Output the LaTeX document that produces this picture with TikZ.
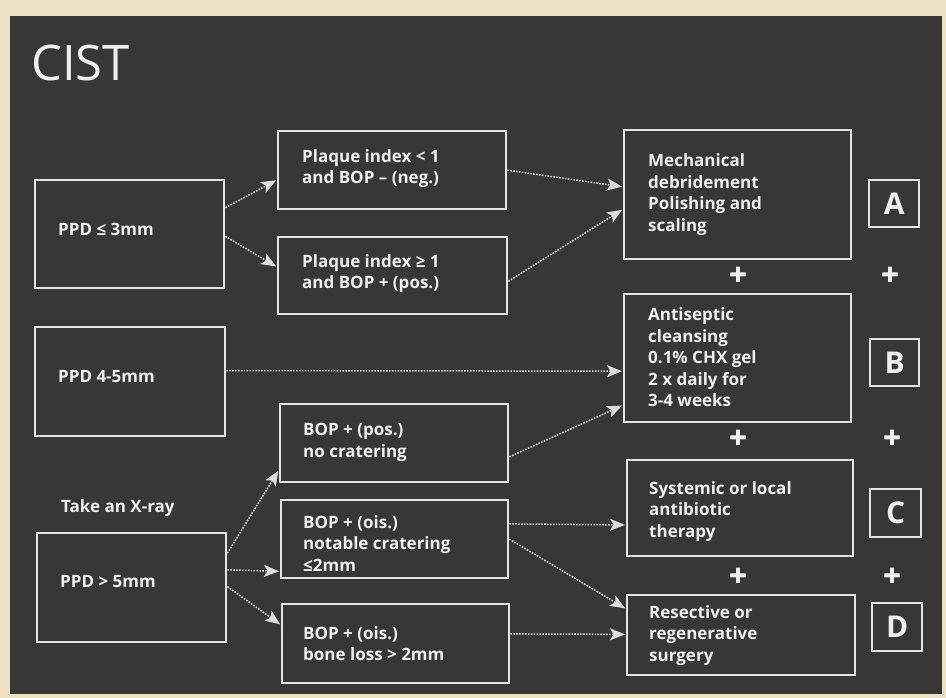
\documentclass[tikz,border=0pt]{standalone}
\usepackage{fontspec}
\setmainfont{Open Sans}
\newfontfamily\plusfont{Open Sans Bold}[FakeBold=2.5]
\usetikzlibrary{calc,arrows.meta}
\definecolor{cream}{HTML}{EDE2C3}
\definecolor{board}{HTML}{373736}
\definecolor{chalk}{HTML}{EEEEEE}
\definecolor{linecol}{HTML}{E4E4E4}
\definecolor{arrcol}{HTML}{DCDCDC}
\tikzset{
  box/.style={draw=linecol, line width=2.4pt, rectangle, inner sep=0pt, anchor=north west},
  txt/.style={text=chalk, font=\fontsize{17}{21.5}\selectfont\bfseries, align=left, inner sep=0pt, anchor=west},
  letter/.style={draw=linecol, line width=2.4pt, rectangle, inner sep=0pt, anchor=north west, text=chalk, font=\fontsize{30}{30}\selectfont\bfseries},
  plus/.style={text=chalk, font=\fontsize{30}{30}\plusfont, inner sep=0pt},
  arr/.style={draw=arrcol, line width=1.5pt, dash pattern=on 1.6pt off 1.3pt, -{Stealth[length=15pt,width=12pt,inset=3.5pt]}, shorten >=1pt}
}
\begin{document}
\begin{tikzpicture}[x=1pt,y=-1pt]
\useasboundingbox (0,0) rectangle (946,698);
\fill[cream] (0,0) rectangle (946,698);
\fill[board] (10,16) rectangle (942,694);

\node[text=chalk, font=\fontsize{49}{49}\selectfont, anchor=west, inner sep=0pt] (title) at (31,63) {CIST};

% boxes
\node[box, minimum width=189pt, minimum height=108pt] (ppd3) at (34,179) {};
\node[box, minimum width=190pt, minimum height=109pt] (ppd45) at (34,326) {};
\node[box, minimum width=189pt, minimum height=109pt] (ppd5) at (36,532) {};
\node[box, minimum width=228pt, minimum height=78pt] (pl1) at (277,130) {};
\node[box, minimum width=229pt, minimum height=77pt] (pl2) at (277,236) {};
\node[box, minimum width=228pt, minimum height=78pt] (bop1) at (279,403) {};
\node[box, minimum width=227pt, minimum height=78pt] (bop2) at (280,499) {};
\node[box, minimum width=227pt, minimum height=79pt] (bop3) at (281,603) {};
\node[box, minimum width=227pt, minimum height=129pt] (mech) at (623,129) {};
\node[box, minimum width=227pt, minimum height=128pt] (anti) at (623,293) {};
\node[box, minimum width=226pt, minimum height=96pt] (syst) at (626,459) {};
\node[box, minimum width=228pt, minimum height=80pt] (surg) at (626,594) {};

% texts
\node[txt] (ppd3t) at ($(ppd3.west)+(24,-5)$) {PPD ≤ 3mm};
\node[txt] (ppd45t) at ($(ppd45.west)+(24,-5.5)$) {PPD 4-5mm};
\node[txt] (ppd5t) at ($(ppd5.west)+(24,-6.5)$) {PPD > 5mm};
\node[txt] (xray) at (61,508) {Take an X-ray};
\node[txt] (pl1t) at ($(pl1.west)+(25,-1.5)$) {Plaque index < 1\\and BOP – (neg.)};
\node[txt] (pl2t) at ($(pl2.west)+(25,-2)$) {Plaque index ≥ 1\\and BOP + (pos.)};
\node[txt] (bop1t) at ($(bop1.west)+(24,-1)$) {BOP + (pos.)\\no cratering};
\node[txt] (bop2t) at ($(bop2.west)+(23,4)$) {BOP + (ois.)\\notable cratering\\≤2mm};
\node[txt] (bop3t) at ($(bop3.west)+(22,0)$) {BOP + (ois.)\\bone loss > 2mm};
\node[txt] (mecht) at ($(mech.west)+(25,0)$) {Mechanical\\debridement\\Polishing and\\scaling};
\node[txt] (antit) at ($(anti.west)+(25,-1)$) {Antiseptic\\cleansing\\0.1\% CHX gel\\2 x daily for\\3-4 weeks};
\node[txt] (systt) at ($(syst.west)+(23,3)$) {Systemic or local\\antibiotic\\therapy};
\node[txt] (surgt) at ($(surg.west)+(23,0)$) {Resective or\\regenerative\\surgery};

% letters
\node[letter, minimum width=50pt, minimum height=47pt] (la) at (868,179) {A};
\node[letter, minimum width=49pt, minimum height=47pt] (lb) at (869,338) {B};
\node[letter, minimum width=51pt, minimum height=48pt] (lc) at (869,488) {C};
\node[letter, minimum width=50pt, minimum height=48pt] (ld) at (871,602) {D};

% plus signs
\node[plus] (p1) at (738,276) {+};
\node[plus] (p2) at (890,276) {+};
\node[plus] (p3) at (738,439) {+};
\node[plus] (p4) at (892,439) {+};
\node[plus] (p5) at (738,577) {+};
\node[plus] (p6) at (892,577) {+};

% arrows
\draw[arr] ($(ppd3.north east)!0.26!(ppd3.south east)$) -- ($(pl1.north west)!0.62!(pl1.south west)$);
\draw[arr] ($(ppd3.north east)!0.52!(ppd3.south east)$) -- ($(pl2.north west)!0.39!(pl2.south west)$);
\draw[arr] ($(pl1.north east)!0.5!(pl1.south east)$) -- ($(mech.north west)!0.44!(mech.south west)$);
\draw[arr] ($(pl2.north east)!0.57!(pl2.south east)$) -- ($(mech.north west)!0.61!(mech.south west)$);
\draw[arr] ($(ppd45.north east)!0.40!(ppd45.south east)$) -- ($(anti.north west)!0.60!(anti.south west)$);
\draw[arr] ($(bop1.north east)!0.67!(bop1.south east)$) -- ($(anti.north west)!0.86!(anti.south west)$);
\draw[arr] ($(ppd5.north east)!0.19!(ppd5.south east)$) -- ($(bop1.north west)!0.83!(bop1.south west)$);
\draw[arr] ($(ppd5.north east)!0.34!(ppd5.south east)$) -- ($(bop2.north west)!0.90!(bop2.south west)$);
\draw[arr] ($(ppd5.north east)!0.49!(ppd5.south east)$) -- ($(bop3.north west)!0.27!(bop3.south west)$);
\draw[arr] ($(bop2.north east)!0.31!(bop2.south east)$) -- ($(syst.north west)!0.67!(syst.south west)$);
\draw[arr] ($(bop2.north east)!0.5!(bop2.south east)$) -- ($(surg.north west)!0.18!(surg.south west)$);
\draw[arr] ($(bop3.north east)!0.38!(bop3.south east)$) -- ($(surg.north west)!0.49!(surg.south west)$);
\end{tikzpicture}
\end{document}
